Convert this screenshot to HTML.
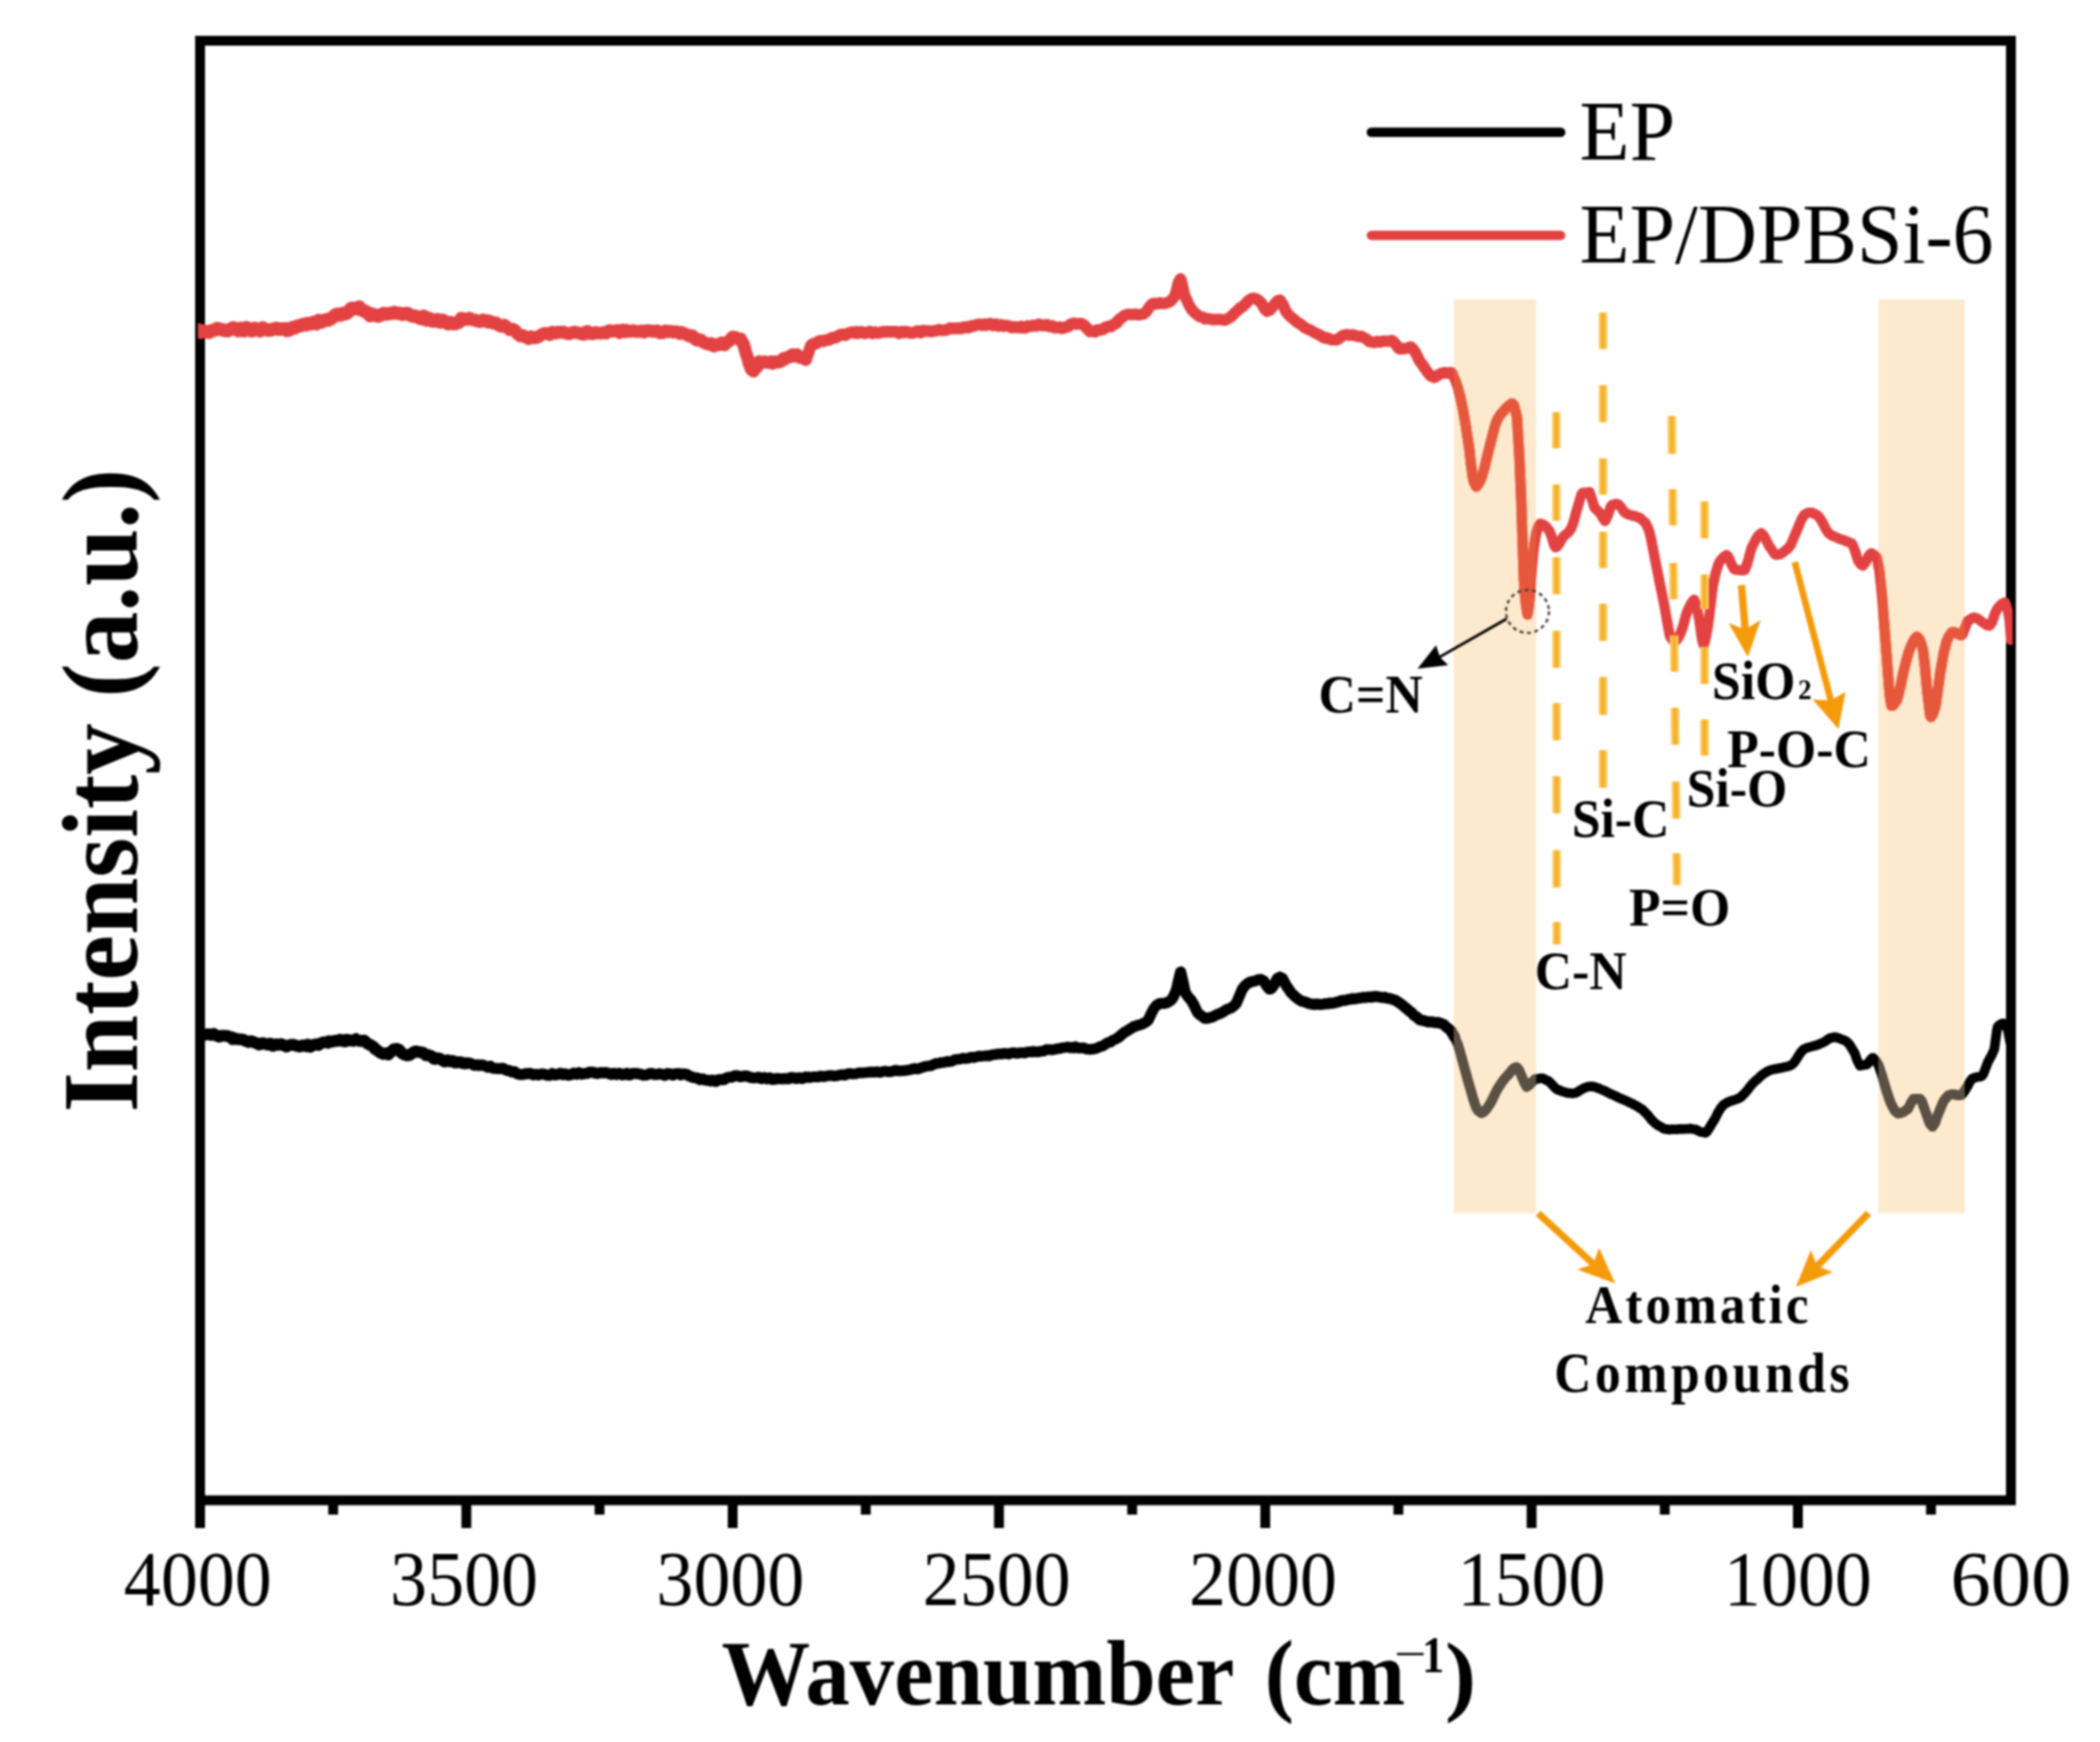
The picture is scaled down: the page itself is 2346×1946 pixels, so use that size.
<!DOCTYPE html>
<html lang="en"><head><meta charset="utf-8"><title>FTIR spectra</title>
<style>html,body{margin:0;padding:0;background:#fff}body{width:2346px;height:1946px;overflow:hidden}svg{display:block}</style></head>
<body>
<svg width="2346" height="1946" viewBox="0 0 2346 1946" font-family="'Liberation Serif', serif" fill="#000">
<defs>
<clipPath id="bands"><rect x="1624.0" y="334.6" width="92.2" height="1020.7"/><rect x="2098.4" y="334.6" width="96.6" height="1020.7"/></clipPath>
<clipPath id="plot"><rect x="221" y="40" width="2027.5" height="1640"/></clipPath>
<filter id="soft" color-interpolation-filters="sRGB" x="0" y="0" width="100%" height="100%" filterUnits="userSpaceOnUse" primitiveUnits="userSpaceOnUse"><feGaussianBlur stdDeviation="1.0"/></filter>
</defs>
<g filter="url(#soft)">
<rect width="2346" height="1946" fill="#fff"/>
<rect x="1624.0" y="334.6" width="92.2" height="1020.7" fill="#fde9ce"/>
<rect x="2098.4" y="334.6" width="96.6" height="1020.7" fill="#fde9ce"/>
<rect x="223.5" y="45.5" width="2023.0" height="1630.5" fill="none" stroke="#000" stroke-width="11"/>
<path d="M223.5,1676.0 V1707 M521.0,1676.0 V1707 M818.5,1676.0 V1707 M1116.0,1676.0 V1707 M1413.5,1676.0 V1707 M1711.0,1676.0 V1707 M2008.5,1676.0 V1707 M372.2,1676.0 V1692 M669.8,1676.0 V1692 M967.2,1676.0 V1692 M1264.8,1676.0 V1692 M1562.2,1676.0 V1692 M1859.8,1676.0 V1692 M2157.2,1676.0 V1692" stroke="#000" stroke-width="11" fill="none"/>
<g fill="none" stroke-linejoin="round" stroke-linecap="round" clip-path="url(#plot)">
<path d="M223.8,1153.5 L226.8,1155.6 L229.8,1155.8 L232.8,1155.3 L235.8,1156.2 L238.8,1155.0 L241.8,1156.9 L244.8,1158.1 L247.8,1157.0 L250.8,1157.0 L253.8,1157.4 L256.8,1158.3 L259.5,1159.0 L259.8,1160.8 L262.8,1160.3 L265.8,1161.0 L268.8,1161.0 L271.8,1161.5 L274.8,1162.9 L277.8,1164.1 L280.8,1163.0 L283.8,1164.3 L286.8,1165.5 L289.8,1166.9 L292.8,1165.3 L295.8,1166.0 L298.8,1166.9 L301.8,1165.8 L302.4,1167.2 L304.8,1168.4 L307.8,1166.5 L310.8,1167.2 L313.8,1166.3 L316.8,1167.6 L319.8,1169.1 L322.8,1167.9 L325.8,1167.0 L328.8,1167.4 L331.8,1168.4 L334.8,1169.1 L337.8,1167.9 L340.8,1168.1 L342.9,1169.0 L343.8,1166.9 L346.8,1169.3 L349.8,1167.5 L352.8,1166.6 L355.8,1167.3 L358.8,1165.2 L361.8,1164.3 L364.8,1164.1 L366.7,1165.0 L367.8,1163.1 L370.8,1163.7 L373.8,1162.6 L376.8,1163.0 L379.8,1161.4 L382.8,1163.0 L385.7,1163.4 L385.8,1161.6 L388.8,1161.7 L391.8,1162.4 L394.8,1162.8 L397.8,1160.8 L400.8,1162.6 L403.8,1163.0 L404.8,1163.0 L406.8,1162.3 L409.8,1165.2 L412.8,1166.9 L415.8,1168.5 L418.8,1170.9 L419.0,1172.0 L421.8,1173.5 L424.8,1176.0 L427.8,1177.3 L430.8,1176.6 L432.1,1177.3 L433.8,1178.0 L436.8,1175.1 L439.8,1172.1 L442.8,1173.0 L442.9,1171.5 L445.8,1172.7 L448.8,1176.5 L451.8,1178.1 L452.4,1178.1 L454.8,1179.0 L457.8,1178.5 L460.8,1176.3 L463.8,1174.6 L466.7,1175.1 L466.8,1174.9 L469.8,1175.4 L472.8,1175.9 L475.8,1178.9 L478.8,1178.7 L481.8,1179.7 L484.8,1182.8 L485.7,1183.1 L487.8,1182.1 L490.8,1182.5 L493.8,1184.3 L496.8,1185.8 L499.8,1184.3 L502.8,1185.6 L505.8,1185.2 L508.8,1187.0 L511.8,1186.6 L514.8,1186.7 L517.8,1187.9 L520.8,1187.8" stroke="#000" stroke-width="13.2"/>
<path d="M517.8,1187.9 L520.8,1187.8 L523.8,1187.5 L526.8,1188.4 L529.8,1190.0 L532.8,1190.1 L533.3,1189.5 L535.8,1190.2 L538.8,1189.6 L541.8,1190.7 L544.8,1192.2 L547.8,1191.1 L550.8,1193.4 L553.8,1193.6 L556.8,1193.8 L559.8,1193.6 L561.9,1193.4 L562.8,1194.0 L565.8,1195.7 L568.8,1195.9 L571.8,1197.6 L574.8,1197.2 L577.8,1199.4 L580.8,1200.2 L583.8,1200.4 L586.8,1199.5 L588.1,1199.6 L589.8,1199.2 L592.8,1199.2 L595.8,1200.7 L598.8,1200.2 L601.8,1200.8 L604.8,1199.7 L607.8,1199.9 L610.8,1201.1 L613.8,1201.3 L616.8,1199.3 L619.8,1200.8 L622.8,1200.3 L625.8,1199.1 L628.6,1200.5 L628.8,1199.7 L631.8,1199.8 L634.8,1201.1 L637.8,1200.5 L640.8,1198.8 L643.8,1200.0 L646.8,1198.3 L649.8,1200.0 L652.8,1199.2 L655.8,1199.1 L658.8,1197.6 L661.8,1197.7 L664.3,1198.7 L664.8,1198.3 L667.8,1199.3 L670.8,1198.2 L673.8,1198.6 L676.8,1198.1 L679.8,1199.1 L682.8,1200.3 L685.8,1199.0 L688.8,1200.3 L691.8,1199.0 L694.8,1200.7 L697.8,1200.0 L700.0,1199.2 L700.8,1200.6 L703.8,1200.9 L706.8,1199.3 L709.8,1199.2 L712.8,1199.5 L715.8,1200.1 L718.8,1201.1 L721.8,1200.9 L724.8,1199.7 L727.8,1199.1 L730.8,1200.3 L733.8,1200.3 L736.8,1199.5 L739.8,1200.3 L742.8,1201.2 L745.8,1199.3 L748.8,1199.7 L751.8,1200.9 L754.8,1199.4 L757.8,1199.4 L759.5,1199.5 L760.8,1200.8 L763.8,1199.7 L766.8,1200.1 L769.8,1202.0 L772.8,1203.1 L775.8,1203.9 L778.8,1204.1 L781.8,1206.1 L784.8,1205.2 L787.8,1206.5 L790.8,1206.8 L793.8,1207.5 L795.2,1206.7 L796.8,1206.6 L799.8,1208.1 L802.8,1206.1 L805.8,1205.9 L808.8,1206.1 L811.8,1204.0 L814.8,1203.4 L817.8,1203.3 L820.8,1201.8 L823.8,1201.6 L826.8,1202.9 L829.8,1202.4 L832.8,1201.9 L835.8,1202.6 L838.8,1203.7 L841.8,1204.1 L844.8,1203.8 L847.8,1203.4 L850.8,1205.0 L853.8,1203.8 L856.8,1205.2 L859.8,1204.1 L862.8,1205.9 L865.8,1205.6 L866.7,1205.0 L868.8,1204.8 L871.8,1205.1 L874.8,1205.2 L877.8,1204.9 L880.8,1205.1 L883.8,1203.6 L886.8,1204.2 L889.8,1204.8 L892.8,1203.9 L895.8,1204.9 L898.8,1203.7 L901.8,1203.2" stroke="#000" stroke-width="12.4"/>
<path d="M898.8,1203.7 L901.8,1203.2 L904.8,1203.8 L907.8,1202.9 L910.8,1202.9 L913.8,1202.8 L914.3,1203.1 L916.8,1202.0 L919.8,1202.8 L922.8,1202.1 L925.8,1201.6 L928.8,1201.4 L931.8,1202.1 L934.8,1201.8 L937.8,1201.0 L940.8,1200.5 L943.8,1201.1 L946.8,1199.5 L949.8,1199.3 L952.8,1199.7 L955.8,1199.6 L958.8,1198.6 L961.8,1198.6 L961.9,1198.4 L964.8,1198.4 L967.8,1198.1 L970.8,1197.8 L973.8,1197.6 L976.8,1197.8 L979.8,1197.2 L982.8,1198.0 L985.8,1197.2 L988.8,1196.6 L991.8,1197.2 L994.8,1197.2 L997.8,1196.4 L1000.8,1195.6 L1003.8,1196.3 L1006.8,1196.2 L1009.8,1196.1 L1012.8,1195.6 L1015.8,1195.1 L1018.8,1194.4 L1021.4,1193.9 L1021.8,1193.6 L1024.8,1194.2 L1027.8,1193.3 L1030.8,1192.3 L1033.8,1191.3 L1036.8,1190.8 L1039.8,1190.6 L1042.8,1189.1 L1045.8,1188.0 L1048.8,1187.7 L1051.8,1186.9 L1054.8,1186.7 L1057.1,1186.1 L1057.8,1185.8 L1060.8,1186.0 L1063.8,1185.3 L1066.8,1183.7 L1069.8,1183.4 L1072.8,1183.1 L1075.8,1182.1 L1078.8,1182.6 L1081.8,1182.1 L1084.8,1181.0 L1087.8,1181.4 L1090.8,1180.5 L1093.8,1179.7 L1096.8,1179.9 L1099.8,1179.6 L1102.8,1179.3 L1104.8,1179.5 L1105.8,1179.3 L1108.8,1178.3 L1111.8,1178.1 L1114.8,1177.2 L1117.8,1177.6 L1120.8,1177.0 L1123.8,1176.7 L1126.8,1177.5 L1129.8,1176.2 L1132.8,1176.1 L1135.8,1176.7 L1138.8,1176.3 L1141.8,1175.9 L1144.8,1176.3 L1147.8,1175.2 L1150.8,1174.9 L1152.4,1175.2 L1153.8,1174.5 L1156.8,1175.0 L1159.8,1175.0 L1162.8,1174.4 L1165.8,1174.1 L1168.8,1172.5 L1171.8,1172.6 L1174.8,1172.8 L1177.8,1172.3 L1180.8,1171.6 L1183.8,1171.3 L1186.8,1170.4 L1189.8,1170.1 L1192.8,1169.6 L1195.8,1170.6 L1198.8,1169.7 L1200.0,1170.7 L1201.8,1169.4 L1204.8,1170.8 L1207.8,1170.8 L1210.8,1170.6 L1213.8,1171.9 L1216.8,1172.2 L1217.9,1172.2 L1219.8,1172.1 L1222.8,1171.6 L1225.8,1170.8 L1228.8,1169.2 L1231.8,1168.6 L1234.8,1166.5 L1237.8,1164.7 L1240.8,1164.1 L1242.9,1162.1 L1243.8,1161.9 L1246.8,1160.5 L1249.8,1158.7 L1252.8,1156.0" stroke="#000" stroke-width="12.0"/>
<path d="M1249.8,1158.7 L1252.8,1156.0 L1255.8,1153.5 L1258.8,1151.9 L1261.8,1149.8 L1264.8,1148.1 L1266.7,1146.7 L1267.8,1146.7 L1270.8,1145.5 L1273.8,1144.7 L1276.8,1143.5 L1279.8,1141.9 L1281.0,1141.1 L1282.8,1139.3 L1285.8,1132.8 L1288.8,1127.0 L1291.7,1123.4 L1291.8,1123.3 L1294.8,1121.4 L1297.8,1120.9 L1300.8,1120.9 L1303.8,1120.0 L1306.8,1118.1 L1307.1,1118.3 L1309.8,1115.5 L1312.8,1109.3 L1314.3,1105.2 L1315.8,1098.4 L1318.8,1086.0 L1319.0,1085.7 L1321.8,1097.7 L1323.8,1107.2 L1324.8,1109.9 L1327.8,1114.2 L1330.8,1117.5 L1332.1,1119.9 L1333.8,1122.6 L1336.8,1129.2 L1338.1,1131.5 L1339.8,1133.1 L1342.8,1135.2 L1345.8,1137.5 L1347.6,1137.5 L1348.8,1137.5 L1351.8,1136.7 L1354.8,1136.0 L1357.8,1134.2 L1360.8,1133.0 L1363.8,1131.8 L1366.7,1130.3 L1366.8,1130.2 L1369.8,1128.2 L1372.8,1126.9 L1375.8,1125.7 L1378.8,1123.3 L1381.0,1121.0 L1381.8,1119.2 L1384.8,1112.3 L1387.8,1105.0 L1389.3,1103.2 L1390.8,1101.1 L1393.8,1098.6 L1396.8,1097.0 L1397.6,1097.1 L1399.8,1096.2 L1402.8,1095.7 L1405.8,1094.4 L1408.8,1094.1 L1409.5,1094.8 L1411.8,1095.7 L1414.8,1101.0 L1417.8,1104.8 L1419.0,1104.9 L1420.8,1103.9 L1423.8,1099.5 L1426.8,1093.2 L1429.8,1091.5 L1432.8,1093.2 L1435.8,1098.8 L1438.1,1103.0 L1438.8,1103.4 L1441.8,1108.2 L1444.8,1111.4 L1447.8,1114.1 L1450.0,1115.7 L1450.8,1116.4 L1453.8,1118.2 L1456.8,1118.9 L1459.8,1120.2 L1462.8,1121.2 L1465.8,1121.8 L1468.8,1122.1 L1469.0,1121.7 L1471.8,1121.7 L1474.8,1122.1 L1477.8,1121.9 L1480.8,1121.1 L1483.8,1121.4 L1485.7,1120.4 L1486.8,1120.9 L1489.8,1120.5 L1492.8,1119.6 L1495.8,1119.0 L1498.8,1117.7 L1501.8,1117.7 L1504.8,1116.9 L1507.8,1116.3 L1509.5,1116.1 L1510.8,1115.5 L1513.8,1115.8 L1516.8,1115.2 L1519.8,1114.9 L1522.8,1114.1 L1525.8,1114.3 L1528.8,1113.7 L1531.8,1114.0 L1534.8,1113.2 L1537.8,1113.2 L1538.1,1113.3 L1540.8,1113.6 L1543.8,1114.4 L1546.8,1114.0 L1549.8,1115.2 L1552.8,1115.4 L1555.8,1116.6 L1557.1,1116.9 L1558.8,1117.4 L1561.8,1119.4 L1564.8,1121.4 L1567.8,1123.7 L1570.8,1126.4 L1571.4,1126.4 L1573.8,1129.0 L1576.8,1130.9 L1579.8,1134.4 L1582.8,1136.1 L1585.8,1139.1 L1588.8,1139.7 L1590.0,1140.0 L1591.8,1140.5 L1594.8,1141.6 L1597.8,1141.4 L1600.8,1141.7 L1603.8,1142.4 L1606.8,1142.2 L1609.5,1143.3 L1609.8,1143.3 L1612.8,1144.4 L1615.8,1147.3 L1618.8,1149.6 L1621.2,1152.2 L1621.8,1153.3 L1624.8,1158.5" stroke="#000" stroke-width="12.3"/>
<path d="M1621.8,1153.3 L1624.8,1158.5 L1627.8,1164.9 L1628.7,1167.1 L1630.8,1173.9 L1633.8,1184.8 L1636.1,1193.4 L1636.8,1195.8 L1639.8,1206.7 L1642.8,1216.9 L1643.6,1219.8 L1645.8,1227.5 L1648.8,1236.5 L1649.6,1238.2 L1651.8,1241.2 L1654.8,1243.3 L1655.5,1243.3 L1657.8,1242.0 L1660.8,1238.8 L1663.7,1234.4 L1663.8,1234.3 L1666.8,1229.0 L1669.8,1222.7 L1672.8,1216.7 L1673.4,1215.7 L1675.8,1212.1 L1678.8,1207.7 L1681.8,1203.9 L1684.6,1200.9 L1684.8,1200.9 L1687.8,1197.0 L1690.8,1193.7 L1693.8,1192.2 L1694.3,1192.1 L1696.8,1194.8 L1699.8,1202.0 L1701.0,1204.7 L1702.8,1209.1 L1705.5,1214.1 L1705.8,1214.0 L1708.8,1211.8 L1711.8,1208.4 L1714.5,1206.2 L1714.8,1205.7 L1717.8,1205.3 L1720.8,1204.6 L1721.9,1204.6 L1723.8,1204.6 L1726.8,1206.4 L1729.8,1207.6 L1730.0,1207.8 L1732.8,1210.4 L1735.8,1213.8 L1738.8,1216.6 L1739.6,1217.3 L1741.8,1217.6 L1744.8,1219.1 L1747.8,1219.9 L1750.8,1220.9 L1753.8,1221.2 L1756.8,1221.5 L1759.8,1221.0 L1762.8,1219.6 L1765.8,1217.5 L1768.8,1216.0 L1771.8,1214.6 L1774.8,1213.8 L1775.8,1213.9 L1777.8,1213.6 L1780.8,1213.9 L1783.8,1215.1 L1786.8,1216.0 L1789.8,1217.5 L1792.8,1218.6 L1795.8,1220.2 L1798.8,1221.9 L1801.8,1223.0 L1803.3,1223.8 L1804.8,1224.3 L1807.8,1226.0 L1810.8,1227.2 L1813.8,1228.5 L1816.8,1229.7 L1819.8,1231.4 L1822.8,1232.5 L1825.8,1234.3 L1828.8,1235.6 L1831.8,1237.8 L1834.3,1239.2 L1834.8,1239.5 L1837.8,1242.7 L1840.8,1245.6 L1843.8,1249.5 L1846.8,1252.7 L1849.8,1255.4 L1851.6,1256.7 L1852.8,1257.6 L1855.8,1258.9 L1858.8,1260.9 L1861.8,1261.5 L1863.6,1261.6 L1864.8,1262.0 L1867.8,1261.5 L1870.8,1261.6 L1873.8,1261.7 L1876.8,1261.2 L1879.8,1261.3 L1882.8,1261.1 L1885.8,1261.1 L1888.8,1260.7 L1889.5,1261.0 L1891.8,1261.4 L1894.8,1261.8 L1897.8,1263.6 L1900.8,1264.7 L1903.8,1265.0 L1905.0,1265.5 L1906.8,1264.5 L1909.8,1259.7 L1912.8,1254.6 L1913.6,1253.5 L1915.8,1249.8 L1918.8,1243.8 L1921.8,1238.7 L1924.8,1234.9 L1925.6,1234.1 L1927.8,1232.7 L1930.8,1231.0 L1933.8,1229.9 L1936.8,1229.0 L1939.8,1228.0 L1942.8,1226.7 L1944.6,1225.9 L1945.8,1224.5 L1948.8,1221.6 L1951.8,1218.2 L1954.8,1214.3 L1957.8,1210.5 L1958.4,1210.2 L1960.8,1207.6 L1963.8,1205.3 L1966.8,1202.2 L1969.8,1199.9 L1972.8,1197.8 L1975.6,1196.4 L1975.8,1196.1 L1978.8,1195.2 L1981.8,1194.3 L1984.8,1193.9 L1987.8,1193.2 L1990.8,1192.8 L1993.8,1192.1 L1996.8,1191.4 L1999.8,1190.5 L2001.4,1189.5 L2002.8,1188.6 L2005.8,1185.0 L2008.8,1180.2 L2011.8,1175.5 L2014.8,1172.3 L2015.2,1172.2 L2017.8,1170.8 L2020.8,1169.9 L2023.8,1169.1 L2026.8,1168.3 L2029.8,1167.5 L2032.8,1166.2 L2034.9,1165.3 L2035.8,1165.0 L2038.8,1163.5 L2041.8,1161.2 L2044.8,1159.5 L2047.8,1159.1 L2048.5,1158.7 L2050.8,1158.7 L2053.8,1159.6 L2056.8,1160.7 L2059.8,1161.9 L2062.1,1162.9 L2062.8,1163.5 L2065.8,1166.4 L2068.8,1171.2 L2070.8,1174.6 L2071.8,1176.0 L2074.8,1184.7 L2077.8,1190.5 L2078.2,1190.5 L2080.8,1190.0 L2083.8,1189.4 L2085.6,1189.1 L2086.8,1187.9 L2089.8,1183.6 L2091.8,1181.7 L2092.8,1181.9 L2095.8,1185.6 L2098.0,1188.9 L2098.8,1190.7 L2101.8,1199.4 L2104.8,1209.3 L2105.4,1211.6 L2107.8,1219.3 L2110.8,1228.5 L2112.9,1233.7 L2113.8,1235.3 L2116.8,1240.9 L2119.8,1243.6 L2120.3,1243.9 L2122.8,1243.5 L2125.8,1242.4 L2128.8,1240.4 L2131.4,1238.9 L2131.8,1238.2 L2134.8,1232.0 L2137.6,1227.6 L2137.8,1227.5 L2140.8,1227.3 L2143.8,1227.6 L2145.0,1227.6 L2146.8,1229.8 L2149.8,1238.3 L2151.2,1242.2 L2152.8,1246.6 L2155.8,1254.9 L2158.7,1258.3 L2158.8,1258.7 L2161.8,1254.3 L2164.8,1245.4 L2166.1,1242.5 L2167.8,1238.3 L2170.8,1231.0 L2172.3,1228.6 L2173.8,1226.9 L2176.8,1223.6 L2179.7,1222.7 L2179.8,1222.6 L2182.8,1222.6 L2185.8,1223.2 L2188.8,1223.4 L2190.9,1223.2 L2191.8,1222.8 L2194.8,1218.9 L2197.0,1215.0 L2197.8,1214.1 L2200.8,1208.1 L2203.2,1205.0 L2203.8,1204.6 L2206.8,1203.6 L2209.8,1203.0 L2212.8,1202.6 L2214.4,1201.6 L2215.8,1199.6 L2218.8,1191.7 L2220.6,1186.8 L2221.8,1184.5 L2224.8,1179.2 L2227.8,1172.3 L2228.0,1171.9 L2230.8,1151.0 L2231.7,1146.9 L2233.8,1144.9 L2236.8,1143.3 L2237.9,1143.2 L2239.8,1144.5 L2242.8,1149.8 L2243.0,1150.3 L2245.8,1164.7 L2246.0,1165.7" stroke="#000" stroke-width="10.8"/>
<path d="M221.4,368.5 L224.4,371.1 L227.4,369.5 L230.4,370.5 L233.4,371.3 L236.4,369.3 L239.4,369.0 L242.4,367.1 L245.4,367.7 L248.4,368.5 L251.4,369.1 L254.4,369.5 L257.4,367.7 L260.4,366.3 L263.4,367.1 L266.4,369.6 L269.4,366.8 L271.4,367.7 L272.4,369.6 L275.4,366.0 L278.4,368.3 L281.4,369.7 L284.4,366.8 L287.4,368.1 L290.4,369.5 L293.4,366.4 L296.4,368.0 L299.4,368.9 L302.4,368.6 L305.4,367.8 L308.4,366.7 L311.4,367.9 L314.4,367.4 L317.4,367.8 L319.0,367.4 L320.4,369.2 L323.4,368.6 L326.4,366.1 L329.4,366.3 L332.4,364.2 L335.4,363.9 L338.4,362.5 L341.4,362.9 L342.9,361.4 L344.4,361.4 L347.4,361.8 L350.4,360.1 L353.4,361.5 L356.4,358.0 L359.4,359.7 L362.4,357.8 L365.4,357.1 L366.7,357.5 L368.4,356.6 L371.4,355.0 L374.4,352.0 L377.4,350.9 L380.4,352.0 L383.3,350.1 L383.4,350.7 L386.4,350.6 L389.4,348.3 L392.4,344.5 L395.4,344.5 L398.4,344.8 L401.4,343.0 L402.4,345.9 L404.4,346.2 L407.4,347.8 L410.4,348.8 L413.4,352.6 L416.4,350.9 L416.7,351.6 L419.4,352.2 L422.4,353.2 L425.4,351.9 L428.4,350.3 L431.4,350.8 L434.4,350.4 L437.4,350.0 L440.4,349.1 L443.4,349.9 L446.4,349.9 L449.4,351.1 L450.0,351.2 L452.4,350.2 L455.4,350.3 L458.4,352.1 L461.4,353.2 L464.4,353.2 L467.4,354.6 L470.4,356.0 L473.4,353.3 L476.4,357.5 L479.4,355.8 L481.0,356.9 L482.4,358.5 L485.4,358.7 L488.4,357.1 L491.4,359.7 L494.4,357.9 L497.4,359.6 L500.4,361.7 L503.4,360.4 L504.8,361.1 L506.4,361.5 L509.4,361.2 L512.4,360.0 L515.4,355.9 L518.4,356.7 L521.4,356.6" stroke="#e34242" stroke-width="15.0"/>
<path d="M518.4,356.7 L521.4,356.6 L524.4,355.4 L527.4,357.1 L530.4,357.6 L533.4,358.6 L536.4,359.4 L539.4,357.4 L542.4,358.2 L545.2,360.0 L545.4,358.4 L548.4,359.3 L551.4,361.1 L554.4,360.7 L557.4,363.4 L560.4,364.6 L563.4,363.2 L566.4,365.8 L569.0,367.6 L569.4,368.3 L572.4,367.7 L575.4,369.2 L578.4,373.3 L581.4,375.3 L584.4,374.9 L587.4,376.8 L590.4,378.1 L590.5,378.4 L593.4,376.3 L596.4,377.3 L599.4,377.1 L602.4,375.6 L605.4,373.6 L608.4,372.5 L611.4,372.6 L614.4,373.7 L616.7,371.2 L617.4,371.1 L620.4,372.1 L623.4,371.1 L626.4,371.3 L629.4,370.8 L632.4,372.3 L635.4,372.8 L638.4,371.9 L641.4,371.0 L644.4,371.6 L647.4,372.3 L650.4,373.3 L652.4,373.4 L653.4,371.1 L656.4,370.3 L659.4,372.7 L662.4,372.8 L665.4,371.3 L668.4,372.1 L671.4,372.2 L674.4,371.3 L677.4,372.0 L680.4,369.3 L683.4,369.9 L686.4,369.8 L689.4,369.2 L692.4,371.5 L695.4,368.8 L698.4,370.7 L700.0,368.9 L701.4,369.8 L704.4,370.0 L707.4,369.3 L710.4,370.3 L713.4,370.4 L716.4,369.7 L719.4,371.0 L722.4,369.3 L725.4,369.5 L728.4,370.0 L731.4,370.1 L734.4,369.7 L737.4,371.9 L740.4,371.7 L743.4,369.6 L746.4,370.5 L749.4,370.2 L752.4,371.0 L755.4,370.6 L758.4,371.4 L759.5,372.7 L761.4,371.3 L764.4,372.8 L767.4,373.8 L770.4,375.6 L773.4,375.0 L776.4,378.5 L778.6,379.9 L779.4,379.2 L782.4,379.5 L785.4,382.1 L788.4,383.5 L791.4,384.5 L794.4,383.8 L797.4,386.6 L797.6,386.6 L800.4,384.9 L803.4,385.1 L806.4,383.0 L809.4,385.3 L809.5,384.8 L812.4,382.5 L815.4,380.1 L818.4,376.5 L819.0,376.8 L821.4,376.8 L824.4,378.7 L827.4,378.6 L828.6,381.7 L830.4,383.7 L833.4,394.6 L835.7,401.2 L836.4,404.7 L839.4,412.7 L841.7,414.7 L842.4,413.3 L845.4,410.1 L848.4,403.8 L848.8,405.8 L851.4,405.0 L854.4,404.2 L857.4,404.8 L860.4,405.2 L861.9,404.1 L863.4,405.8 L866.4,404.1 L869.4,404.7 L872.4,403.5 L875.4,400.3 L876.2,401.6 L878.4,399.5 L881.4,398.9 L884.4,396.7 L885.7,396.3 L887.4,397.8 L890.4,396.3 L893.4,399.2 L896.4,399.9 L899.4,399.8 L900.0,401.7" stroke="#e34242" stroke-width="14.3"/>
<path d="M899.4,399.8 L900.0,401.7 L902.4,396.3 L905.4,387.2 L906.0,385.9 L908.4,384.0 L911.4,384.0 L914.4,381.4 L917.4,380.5 L920.4,381.2 L923.4,379.7 L923.8,379.5 L926.4,379.6 L929.4,377.4 L932.4,377.5 L935.4,376.0 L938.0,374.7 L938.4,374.0 L941.4,373.6 L944.4,374.3 L947.4,372.4 L950.4,371.4 L953.4,371.2 L956.4,372.2 L957.0,370.7 L959.4,372.0 L962.4,370.7 L965.4,372.3 L968.4,371.5 L971.4,370.5 L974.4,372.3 L977.4,371.1 L980.4,371.9 L983.4,371.4 L986.4,370.6 L989.4,370.6 L992.4,370.7 L995.4,370.7 L998.4,370.5 L1001.4,370.5 L1004.4,372.3 L1007.4,370.6 L1009.5,371.4 L1010.4,370.6 L1013.4,370.8 L1016.4,371.8 L1019.4,372.0 L1022.4,370.9 L1025.4,369.8 L1028.4,371.6 L1031.4,369.4 L1034.4,369.8 L1037.4,369.9 L1040.4,370.3 L1043.4,369.8 L1046.4,369.1 L1049.4,368.4 L1052.4,369.0 L1055.4,368.8 L1057.0,368.6 L1058.4,368.2 L1061.4,366.7 L1064.4,366.8 L1067.4,366.9 L1070.4,366.7 L1073.4,367.0 L1076.4,365.5 L1079.4,366.0 L1081.0,365.2 L1082.4,365.9 L1085.4,364.1 L1088.4,364.1 L1091.4,362.7 L1094.4,362.3 L1097.4,363.4 L1100.0,362.0 L1100.4,363.2 L1103.4,362.5 L1106.4,361.7 L1109.4,363.4 L1112.4,362.2 L1115.4,364.1 L1118.4,362.8 L1121.4,364.4 L1124.4,363.8 L1127.4,364.4 L1130.4,365.9 L1133.4,365.2 L1136.4,365.7 L1139.4,366.0 L1140.5,364.7 L1142.4,366.1 L1145.4,366.1 L1148.4,364.2 L1151.4,364.5 L1154.4,363.6 L1157.4,364.1 L1160.4,362.3 L1163.4,363.1 L1164.3,363.7 L1166.4,363.7 L1169.4,362.8 L1172.4,364.8 L1175.4,364.2 L1178.4,366.0 L1181.4,365.9 L1184.4,365.5 L1185.7,366.7 L1187.4,366.6 L1190.4,365.5 L1193.4,364.7 L1196.4,362.1 L1199.4,361.4 L1200.0,361.2 L1202.4,362.0 L1205.4,361.7 L1208.0,361.6 L1208.4,361.9 L1211.4,363.7 L1214.4,366.8 L1217.4,370.1 L1217.9,369.8 L1220.4,370.0 L1223.4,370.6 L1226.4,368.5 L1229.4,368.5 L1232.4,367.6 L1235.4,365.7 L1238.4,364.9 L1241.4,364.7 L1242.9,362.8 L1244.4,362.7 L1247.4,360.6 L1250.4,356.9" stroke="#e34242" stroke-width="13.2"/>
<path d="M1247.4,360.6 L1250.4,356.9 L1253.4,354.8 L1256.4,352.2 L1259.4,351.2 L1259.5,351.5 L1262.4,351.1 L1265.4,351.5 L1268.4,350.9 L1271.4,351.7 L1274.4,351.3 L1276.2,350.9 L1277.4,350.8 L1280.4,348.4 L1283.4,343.9 L1286.4,340.0 L1288.0,339.1 L1289.4,339.0 L1292.4,339.5 L1295.4,338.3 L1298.4,339.1 L1301.4,338.9 L1304.4,337.8 L1304.8,337.9 L1307.4,336.8 L1310.4,333.5 L1311.9,331.5 L1313.4,327.8 L1316.4,315.7 L1318.6,311.5 L1319.4,312.8 L1322.4,325.8 L1323.8,331.2 L1325.4,334.3 L1328.4,341.0 L1331.4,346.0 L1333.3,348.1 L1334.4,349.1 L1337.4,351.6 L1340.4,353.8 L1343.4,354.3 L1346.4,356.3 L1347.6,355.7 L1349.4,356.0 L1352.4,356.4 L1355.4,357.2 L1358.4,356.9 L1361.4,356.8 L1364.4,356.9 L1367.4,357.6 L1369.0,357.5 L1370.4,356.5 L1373.4,355.2 L1376.4,352.8 L1379.4,349.6 L1382.4,347.0 L1385.4,343.9 L1385.7,344.1 L1388.4,342.3 L1391.4,339.5 L1394.4,336.0 L1397.4,334.0 L1400.4,333.2 L1401.2,333.5 L1403.4,333.8 L1406.4,335.9 L1409.4,339.0 L1409.5,338.9 L1412.4,344.4 L1415.4,347.8 L1415.5,347.5 L1418.4,346.5 L1421.4,343.0 L1424.4,339.2 L1427.4,336.0 L1429.8,335.2 L1430.4,336.0 L1433.4,340.6 L1436.4,347.7 L1438.0,349.5 L1439.4,351.6 L1442.4,354.4 L1445.4,356.7 L1448.4,359.4 L1451.4,361.2 L1454.4,363.3 L1457.4,365.8 L1459.5,366.9 L1460.4,367.5 L1463.4,368.5 L1466.4,370.4 L1469.4,371.9 L1472.4,373.5 L1475.4,374.9 L1478.4,377.1 L1481.0,377.9 L1481.4,377.2 L1484.4,378.1 L1487.4,379.7 L1490.4,379.7 L1492.9,379.6 L1493.4,379.7 L1496.4,377.7 L1499.4,375.3 L1502.4,374.1 L1505.4,373.9 L1508.4,374.5 L1511.4,374.0 L1514.4,375.0 L1517.4,376.0 L1520.4,375.6 L1521.4,376.2 L1523.4,377.1 L1526.4,378.6 L1529.4,381.4 L1532.4,382.0 L1533.3,382.1 L1535.4,382.6 L1538.4,381.4 L1541.4,382.2 L1544.4,381.1 L1547.4,381.2 L1550.4,381.1 L1553.4,381.0 L1554.8,380.4 L1556.4,381.4 L1559.4,384.8 L1562.4,389.0 L1564.3,389.8 L1565.4,389.4 L1568.4,389.5 L1571.4,389.0 L1574.4,388.0 L1576.2,387.6 L1577.4,388.7 L1580.4,392.4 L1583.4,398.0 L1585.7,403.0 L1586.4,403.9 L1589.4,407.8 L1592.4,412.4 L1595.4,416.6 L1598.4,420.1 L1601.4,421.2 L1602.4,421.5 L1604.4,420.5 L1607.4,418.4 L1610.3,417.3 L1610.4,417.0 L1613.4,416.4 L1616.4,416.5 L1619.4,416.8 L1620.7,416.2 L1622.4,418.0" stroke="#e34242" stroke-width="12.8"/>
<path d="M1620.7,416.2 L1622.4,418.0 L1625.4,424.3 L1627.6,430.3 L1628.4,432.8 L1631.4,443.5 L1634.4,457.6 L1637.4,474.9 L1640.4,494.8 L1641.3,500.5 L1643.4,519.6 L1645.6,535.0 L1646.4,538.0 L1649.0,543.6 L1649.4,543.7 L1652.4,539.6 L1655.0,533.9 L1655.4,532.6 L1658.4,522.3 L1661.4,509.9 L1663.7,500.5 L1664.4,497.8 L1667.4,485.9 L1670.4,474.8 L1672.3,469.6 L1673.4,467.6 L1676.4,462.8 L1679.4,459.6 L1681.0,457.7 L1682.4,456.1 L1685.4,453.2 L1688.4,450.9 L1689.6,450.8 L1691.4,452.8 L1694.4,465.0 L1694.7,466.2 L1697.3,509.8 L1697.4,511.4 L1699.5,559.8 L1700.4,588.5 L1702.3,646.2 L1703.4,662.8 L1704.6,674.7 L1706.4,686.5 L1708.2,675.3 L1709.4,660.7 L1710.5,646.0 L1712.4,623.3 L1713.6,611.5 L1715.4,600.0 L1716.6,594.5 L1718.4,588.8 L1720.6,585.0 L1721.4,585.1 L1724.4,586.1 L1727.4,588.6 L1730.4,592.3 L1730.9,593.0 L1733.4,599.4 L1736.4,609.6 L1737.8,611.4 L1739.4,610.8 L1742.4,606.6 L1745.4,600.8 L1746.4,599.6 L1748.4,597.6 L1751.4,595.4 L1754.4,591.6 L1755.0,590.7 L1757.4,584.9 L1760.4,573.7 L1761.9,568.5 L1763.4,563.5 L1766.4,553.0 L1767.9,550.5 L1769.4,550.5 L1772.4,550.3 L1775.4,550.2 L1775.7,549.6 L1778.4,557.7 L1780.9,566.0 L1781.4,567.2 L1784.4,570.1 L1787.4,573.1 L1787.7,573.3 L1790.4,578.4 L1792.9,582.1 L1793.4,581.6 L1796.4,575.3 L1799.4,565.8 L1801.0,563.9 L1802.4,563.7 L1805.4,562.8 L1806.7,563.1 L1808.4,563.8 L1811.4,567.4 L1814.4,571.8 L1817.0,573.9 L1817.4,573.9 L1820.4,575.1 L1823.4,576.0 L1826.4,576.4 L1829.4,577.9 L1830.0,577.7 L1832.4,578.9 L1835.4,581.7 L1838.0,584.2 L1838.4,584.3 L1841.4,590.5 L1842.9,595.2 L1844.4,601.6 L1846.3,611.5 L1847.4,617.1 L1850.4,632.4 L1853.2,645.8 L1853.4,647.4 L1856.4,662.1 L1859.4,676.8 L1860.1,680.8 L1862.4,694.0 L1865.4,709.9 L1866.1,711.7 L1868.4,714.7 L1871.3,717.0 L1871.4,716.8 L1874.4,713.4 L1877.3,707.9 L1877.4,707.6 L1880.4,699.0 L1883.4,687.5 L1885.9,680.6 L1886.4,679.8 L1889.4,673.8 L1892.4,670.0 L1892.8,670.1 L1895.4,677.4 L1898.0,690.8 L1898.4,693.0 L1901.4,714.4 L1903.1,720.4 L1904.4,717.9 L1907.4,703.0 L1908.3,697.7 L1910.4,680.6 L1913.4,655.3 L1913.5,654.6 L1916.4,641.2 L1919.4,631.1 L1920.4,628.7 L1922.4,625.6 L1925.4,622.3 L1928.4,620.4 L1929.0,620.0 L1931.4,623.2 L1934.4,630.6 L1937.4,635.9 L1937.6,636.0 L1940.4,636.7 L1943.4,636.9 L1946.4,637.3 L1948.6,636.9 L1949.4,636.5 L1952.4,628.0 L1955.4,616.7 L1957.2,611.1 L1958.4,608.9 L1961.4,602.8 L1964.4,598.1 L1967.4,595.7 L1967.6,595.5 L1970.4,598.3 L1973.4,604.1 L1976.2,609.5 L1976.4,610.0 L1979.4,614.2 L1982.4,618.9 L1984.8,619.9 L1985.4,619.7 L1988.4,619.4 L1991.4,617.3 L1994.4,615.1 L1997.4,612.8 L1998.6,611.1 L2000.4,609.0 L2003.4,602.1 L2006.4,594.8 L2008.9,589.0 L2009.4,587.6 L2012.4,580.5 L2015.4,575.4 L2015.8,575.2 L2018.4,573.4 L2021.4,572.6 L2022.7,572.8 L2024.4,572.6 L2027.4,574.3 L2030.4,575.9 L2031.3,576.8 L2033.4,579.2 L2036.4,584.5 L2039.4,590.5 L2042.4,595.2 L2043.3,595.9 L2045.4,597.5 L2048.4,599.2 L2051.4,600.2 L2054.4,601.8 L2057.1,602.7 L2057.4,602.7 L2060.4,603.7 L2063.4,605.0 L2066.4,606.1 L2069.2,607.5 L2069.4,608.0 L2072.4,615.5 L2075.4,625.4 L2076.1,626.8 L2078.4,630.1 L2081.2,631.8 L2081.4,631.7 L2084.4,627.7 L2087.4,621.0 L2089.8,618.4 L2090.4,618.1 L2093.4,619.7 L2096.4,623.0 L2096.7,623.6 L2099.4,637.5 L2101.0,651.2 L2102.4,665.4 L2104.5,692.0 L2105.4,703.2 L2107.9,735.5 L2108.4,742.4 L2110.5,769.7 L2111.4,778.7 L2113.1,788.4 L2114.4,788.3 L2117.4,784.7 L2119.1,781.8 L2120.4,778.1 L2123.4,764.9 L2126.0,752.6 L2126.4,751.0 L2129.4,738.7 L2132.4,728.0 L2132.9,726.9 L2135.4,720.5 L2138.4,714.3 L2141.4,711.1 L2141.5,711.3 L2144.4,714.2 L2147.4,722.7 L2148.4,727.0 L2150.4,743.9 L2152.7,769.4 L2153.4,776.1 L2156.4,800.0 L2157.0,800.9 L2159.4,797.8 L2162.2,789.0 L2162.4,787.9 L2165.4,767.1 L2167.4,752.2 L2168.4,746.4 L2171.4,729.4 L2174.2,718.4 L2174.4,717.2 L2177.4,710.5 L2180.4,706.4 L2181.1,706.1 L2183.4,706.2 L2186.4,707.5 L2189.4,709.3 L2191.5,709.6 L2192.4,708.8 L2195.4,701.1 L2198.4,693.7 L2201.4,691.6 L2204.4,690.0 L2205.2,690.0 L2207.4,690.3 L2210.4,691.7 L2213.4,694.3 L2216.4,696.2 L2219.4,698.4 L2222.4,698.9 L2222.5,699.0 L2225.4,695.1 L2228.4,686.1 L2231.1,680.5 L2231.4,679.9 L2234.4,676.3 L2237.4,673.8 L2239.7,673.0 L2240.4,673.8 L2243.4,683.8 L2244.9,692.0 L2246.4,711.4 L2246.6,714.9" stroke="#e34242" stroke-width="11.4"/>
<g clip-path="url(#bands)"><path d="M223.8,1153.5 L226.8,1155.6 L229.8,1155.8 L232.8,1155.3 L235.8,1156.2 L238.8,1155.0 L241.8,1156.9 L244.8,1158.1 L247.8,1157.0 L250.8,1157.0 L253.8,1157.4 L256.8,1158.3 L259.5,1159.0 L259.8,1160.8 L262.8,1160.3 L265.8,1161.0 L268.8,1161.0 L271.8,1161.5 L274.8,1162.9 L277.8,1164.1 L280.8,1163.0 L283.8,1164.3 L286.8,1165.5 L289.8,1166.9 L292.8,1165.3 L295.8,1166.0 L298.8,1166.9 L301.8,1165.8 L302.4,1167.2 L304.8,1168.4 L307.8,1166.5 L310.8,1167.2 L313.8,1166.3 L316.8,1167.6 L319.8,1169.1 L322.8,1167.9 L325.8,1167.0 L328.8,1167.4 L331.8,1168.4 L334.8,1169.1 L337.8,1167.9 L340.8,1168.1 L342.9,1169.0 L343.8,1166.9 L346.8,1169.3 L349.8,1167.5 L352.8,1166.6 L355.8,1167.3 L358.8,1165.2 L361.8,1164.3 L364.8,1164.1 L366.7,1165.0 L367.8,1163.1 L370.8,1163.7 L373.8,1162.6 L376.8,1163.0 L379.8,1161.4 L382.8,1163.0 L385.7,1163.4 L385.8,1161.6 L388.8,1161.7 L391.8,1162.4 L394.8,1162.8 L397.8,1160.8 L400.8,1162.6 L403.8,1163.0 L404.8,1163.0 L406.8,1162.3 L409.8,1165.2 L412.8,1166.9 L415.8,1168.5 L418.8,1170.9 L419.0,1172.0 L421.8,1173.5 L424.8,1176.0 L427.8,1177.3 L430.8,1176.6 L432.1,1177.3 L433.8,1178.0 L436.8,1175.1 L439.8,1172.1 L442.8,1173.0 L442.9,1171.5 L445.8,1172.7 L448.8,1176.5 L451.8,1178.1 L452.4,1178.1 L454.8,1179.0 L457.8,1178.5 L460.8,1176.3 L463.8,1174.6 L466.7,1175.1 L466.8,1174.9 L469.8,1175.4 L472.8,1175.9 L475.8,1178.9 L478.8,1178.7 L481.8,1179.7 L484.8,1182.8 L485.7,1183.1 L487.8,1182.1 L490.8,1182.5 L493.8,1184.3 L496.8,1185.8 L499.8,1184.3 L502.8,1185.6 L505.8,1185.2 L508.8,1187.0 L511.8,1186.6 L514.8,1186.7 L517.8,1187.9 L520.8,1187.8 L523.8,1187.5 L526.8,1188.4 L529.8,1190.0 L532.8,1190.1 L533.3,1189.5 L535.8,1190.2 L538.8,1189.6 L541.8,1190.7 L544.8,1192.2 L547.8,1191.1 L550.8,1193.4 L553.8,1193.6 L556.8,1193.8 L559.8,1193.6 L561.9,1193.4 L562.8,1194.0 L565.8,1195.7 L568.8,1195.9 L571.8,1197.6 L574.8,1197.2 L577.8,1199.4 L580.8,1200.2 L583.8,1200.4 L586.8,1199.5 L588.1,1199.6 L589.8,1199.2 L592.8,1199.2 L595.8,1200.7 L598.8,1200.2 L601.8,1200.8 L604.8,1199.7 L607.8,1199.9 L610.8,1201.1 L613.8,1201.3 L616.8,1199.3 L619.8,1200.8 L622.8,1200.3 L625.8,1199.1 L628.6,1200.5 L628.8,1199.7 L631.8,1199.8 L634.8,1201.1 L637.8,1200.5 L640.8,1198.8 L643.8,1200.0 L646.8,1198.3 L649.8,1200.0 L652.8,1199.2 L655.8,1199.1 L658.8,1197.6 L661.8,1197.7 L664.3,1198.7 L664.8,1198.3 L667.8,1199.3 L670.8,1198.2 L673.8,1198.6 L676.8,1198.1 L679.8,1199.1 L682.8,1200.3 L685.8,1199.0 L688.8,1200.3 L691.8,1199.0 L694.8,1200.7 L697.8,1200.0 L700.0,1199.2 L700.8,1200.6 L703.8,1200.9 L706.8,1199.3 L709.8,1199.2 L712.8,1199.5 L715.8,1200.1 L718.8,1201.1 L721.8,1200.9 L724.8,1199.7 L727.8,1199.1 L730.8,1200.3 L733.8,1200.3 L736.8,1199.5 L739.8,1200.3 L742.8,1201.2 L745.8,1199.3 L748.8,1199.7 L751.8,1200.9 L754.8,1199.4 L757.8,1199.4 L759.5,1199.5 L760.8,1200.8 L763.8,1199.7 L766.8,1200.1 L769.8,1202.0 L772.8,1203.1 L775.8,1203.9 L778.8,1204.1 L781.8,1206.1 L784.8,1205.2 L787.8,1206.5 L790.8,1206.8 L793.8,1207.5 L795.2,1206.7 L796.8,1206.6 L799.8,1208.1 L802.8,1206.1 L805.8,1205.9 L808.8,1206.1 L811.8,1204.0 L814.8,1203.4 L817.8,1203.3 L820.8,1201.8 L823.8,1201.6 L826.8,1202.9 L829.8,1202.4 L832.8,1201.9 L835.8,1202.6 L838.8,1203.7 L841.8,1204.1 L844.8,1203.8 L847.8,1203.4 L850.8,1205.0 L853.8,1203.8 L856.8,1205.2 L859.8,1204.1 L862.8,1205.9 L865.8,1205.6 L866.7,1205.0 L868.8,1204.8 L871.8,1205.1 L874.8,1205.2 L877.8,1204.9 L880.8,1205.1 L883.8,1203.6 L886.8,1204.2 L889.8,1204.8 L892.8,1203.9 L895.8,1204.9 L898.8,1203.7 L901.8,1203.2 L904.8,1203.8 L907.8,1202.9 L910.8,1202.9 L913.8,1202.8 L914.3,1203.1 L916.8,1202.0 L919.8,1202.8 L922.8,1202.1 L925.8,1201.6 L928.8,1201.4 L931.8,1202.1 L934.8,1201.8 L937.8,1201.0 L940.8,1200.5 L943.8,1201.1 L946.8,1199.5 L949.8,1199.3 L952.8,1199.7 L955.8,1199.6 L958.8,1198.6 L961.8,1198.6 L961.9,1198.4 L964.8,1198.4 L967.8,1198.1 L970.8,1197.8 L973.8,1197.6 L976.8,1197.8 L979.8,1197.2 L982.8,1198.0 L985.8,1197.2 L988.8,1196.6 L991.8,1197.2 L994.8,1197.2 L997.8,1196.4 L1000.8,1195.6 L1003.8,1196.3 L1006.8,1196.2 L1009.8,1196.1 L1012.8,1195.6 L1015.8,1195.1 L1018.8,1194.4 L1021.4,1193.9 L1021.8,1193.6 L1024.8,1194.2 L1027.8,1193.3 L1030.8,1192.3 L1033.8,1191.3 L1036.8,1190.8 L1039.8,1190.6 L1042.8,1189.1 L1045.8,1188.0 L1048.8,1187.7 L1051.8,1186.9 L1054.8,1186.7 L1057.1,1186.1 L1057.8,1185.8 L1060.8,1186.0 L1063.8,1185.3 L1066.8,1183.7 L1069.8,1183.4 L1072.8,1183.1 L1075.8,1182.1 L1078.8,1182.6 L1081.8,1182.1 L1084.8,1181.0 L1087.8,1181.4 L1090.8,1180.5 L1093.8,1179.7 L1096.8,1179.9 L1099.8,1179.6 L1102.8,1179.3 L1104.8,1179.5 L1105.8,1179.3 L1108.8,1178.3 L1111.8,1178.1 L1114.8,1177.2 L1117.8,1177.6 L1120.8,1177.0 L1123.8,1176.7 L1126.8,1177.5 L1129.8,1176.2 L1132.8,1176.1 L1135.8,1176.7 L1138.8,1176.3 L1141.8,1175.9 L1144.8,1176.3 L1147.8,1175.2 L1150.8,1174.9 L1152.4,1175.2 L1153.8,1174.5 L1156.8,1175.0 L1159.8,1175.0 L1162.8,1174.4 L1165.8,1174.1 L1168.8,1172.5 L1171.8,1172.6 L1174.8,1172.8 L1177.8,1172.3 L1180.8,1171.6 L1183.8,1171.3 L1186.8,1170.4 L1189.8,1170.1 L1192.8,1169.6 L1195.8,1170.6 L1198.8,1169.7 L1200.0,1170.7 L1201.8,1169.4 L1204.8,1170.8 L1207.8,1170.8 L1210.8,1170.6 L1213.8,1171.9 L1216.8,1172.2 L1217.9,1172.2 L1219.8,1172.1 L1222.8,1171.6 L1225.8,1170.8 L1228.8,1169.2 L1231.8,1168.6 L1234.8,1166.5 L1237.8,1164.7 L1240.8,1164.1 L1242.9,1162.1 L1243.8,1161.9 L1246.8,1160.5 L1249.8,1158.7 L1252.8,1156.0 L1255.8,1153.5 L1258.8,1151.9 L1261.8,1149.8 L1264.8,1148.1 L1266.7,1146.7 L1267.8,1146.7 L1270.8,1145.5 L1273.8,1144.7 L1276.8,1143.5 L1279.8,1141.9 L1281.0,1141.1 L1282.8,1139.3 L1285.8,1132.8 L1288.8,1127.0 L1291.7,1123.4 L1291.8,1123.3 L1294.8,1121.4 L1297.8,1120.9 L1300.8,1120.9 L1303.8,1120.0 L1306.8,1118.1 L1307.1,1118.3 L1309.8,1115.5 L1312.8,1109.3 L1314.3,1105.2 L1315.8,1098.4 L1318.8,1086.0 L1319.0,1085.7 L1321.8,1097.7 L1323.8,1107.2 L1324.8,1109.9 L1327.8,1114.2 L1330.8,1117.5 L1332.1,1119.9 L1333.8,1122.6 L1336.8,1129.2 L1338.1,1131.5 L1339.8,1133.1 L1342.8,1135.2 L1345.8,1137.5 L1347.6,1137.5 L1348.8,1137.5 L1351.8,1136.7 L1354.8,1136.0 L1357.8,1134.2 L1360.8,1133.0 L1363.8,1131.8 L1366.7,1130.3 L1366.8,1130.2 L1369.8,1128.2 L1372.8,1126.9 L1375.8,1125.7 L1378.8,1123.3 L1381.0,1121.0 L1381.8,1119.2 L1384.8,1112.3 L1387.8,1105.0 L1389.3,1103.2 L1390.8,1101.1 L1393.8,1098.6 L1396.8,1097.0 L1397.6,1097.1 L1399.8,1096.2 L1402.8,1095.7 L1405.8,1094.4 L1408.8,1094.1 L1409.5,1094.8 L1411.8,1095.7 L1414.8,1101.0 L1417.8,1104.8 L1419.0,1104.9 L1420.8,1103.9 L1423.8,1099.5 L1426.8,1093.2 L1429.8,1091.5 L1432.8,1093.2 L1435.8,1098.8 L1438.1,1103.0 L1438.8,1103.4 L1441.8,1108.2 L1444.8,1111.4 L1447.8,1114.1 L1450.0,1115.7 L1450.8,1116.4 L1453.8,1118.2 L1456.8,1118.9 L1459.8,1120.2 L1462.8,1121.2 L1465.8,1121.8 L1468.8,1122.1 L1469.0,1121.7 L1471.8,1121.7 L1474.8,1122.1 L1477.8,1121.9 L1480.8,1121.1 L1483.8,1121.4 L1485.7,1120.4 L1486.8,1120.9 L1489.8,1120.5 L1492.8,1119.6 L1495.8,1119.0 L1498.8,1117.7 L1501.8,1117.7 L1504.8,1116.9 L1507.8,1116.3 L1509.5,1116.1 L1510.8,1115.5 L1513.8,1115.8 L1516.8,1115.2 L1519.8,1114.9 L1522.8,1114.1 L1525.8,1114.3 L1528.8,1113.7 L1531.8,1114.0 L1534.8,1113.2 L1537.8,1113.2 L1538.1,1113.3 L1540.8,1113.6 L1543.8,1114.4 L1546.8,1114.0 L1549.8,1115.2 L1552.8,1115.4 L1555.8,1116.6 L1557.1,1116.9 L1558.8,1117.4 L1561.8,1119.4 L1564.8,1121.4 L1567.8,1123.7 L1570.8,1126.4 L1571.4,1126.4 L1573.8,1129.0 L1576.8,1130.9 L1579.8,1134.4 L1582.8,1136.1 L1585.8,1139.1 L1588.8,1139.7 L1590.0,1140.0 L1591.8,1140.5 L1594.8,1141.6 L1597.8,1141.4 L1600.8,1141.7 L1603.8,1142.4 L1606.8,1142.2 L1609.5,1143.3 L1609.8,1143.3 L1612.8,1144.4 L1615.8,1147.3 L1618.8,1149.6 L1621.2,1152.2 L1621.8,1153.3 L1624.8,1158.5 L1627.8,1164.9 L1628.7,1167.1 L1630.8,1173.9 L1633.8,1184.8 L1636.1,1193.4 L1636.8,1195.8 L1639.8,1206.7 L1642.8,1216.9 L1643.6,1219.8 L1645.8,1227.5 L1648.8,1236.5 L1649.6,1238.2 L1651.8,1241.2 L1654.8,1243.3 L1655.5,1243.3 L1657.8,1242.0 L1660.8,1238.8 L1663.7,1234.4 L1663.8,1234.3 L1666.8,1229.0 L1669.8,1222.7 L1672.8,1216.7 L1673.4,1215.7 L1675.8,1212.1 L1678.8,1207.7 L1681.8,1203.9 L1684.6,1200.9 L1684.8,1200.9 L1687.8,1197.0 L1690.8,1193.7 L1693.8,1192.2 L1694.3,1192.1 L1696.8,1194.8 L1699.8,1202.0 L1701.0,1204.7 L1702.8,1209.1 L1705.5,1214.1 L1705.8,1214.0 L1708.8,1211.8 L1711.8,1208.4 L1714.5,1206.2 L1714.8,1205.7 L1717.8,1205.3 L1720.8,1204.6 L1721.9,1204.6 L1723.8,1204.6 L1726.8,1206.4 L1729.8,1207.6 L1730.0,1207.8 L1732.8,1210.4 L1735.8,1213.8 L1738.8,1216.6 L1739.6,1217.3 L1741.8,1217.6 L1744.8,1219.1 L1747.8,1219.9 L1750.8,1220.9 L1753.8,1221.2 L1756.8,1221.5 L1759.8,1221.0 L1762.8,1219.6 L1765.8,1217.5 L1768.8,1216.0 L1771.8,1214.6 L1774.8,1213.8 L1775.8,1213.9 L1777.8,1213.6 L1780.8,1213.9 L1783.8,1215.1 L1786.8,1216.0 L1789.8,1217.5 L1792.8,1218.6 L1795.8,1220.2 L1798.8,1221.9 L1801.8,1223.0 L1803.3,1223.8 L1804.8,1224.3 L1807.8,1226.0 L1810.8,1227.2 L1813.8,1228.5 L1816.8,1229.7 L1819.8,1231.4 L1822.8,1232.5 L1825.8,1234.3 L1828.8,1235.6 L1831.8,1237.8 L1834.3,1239.2 L1834.8,1239.5 L1837.8,1242.7 L1840.8,1245.6 L1843.8,1249.5 L1846.8,1252.7 L1849.8,1255.4 L1851.6,1256.7 L1852.8,1257.6 L1855.8,1258.9 L1858.8,1260.9 L1861.8,1261.5 L1863.6,1261.6 L1864.8,1262.0 L1867.8,1261.5 L1870.8,1261.6 L1873.8,1261.7 L1876.8,1261.2 L1879.8,1261.3 L1882.8,1261.1 L1885.8,1261.1 L1888.8,1260.7 L1889.5,1261.0 L1891.8,1261.4 L1894.8,1261.8 L1897.8,1263.6 L1900.8,1264.7 L1903.8,1265.0 L1905.0,1265.5 L1906.8,1264.5 L1909.8,1259.7 L1912.8,1254.6 L1913.6,1253.5 L1915.8,1249.8 L1918.8,1243.8 L1921.8,1238.7 L1924.8,1234.9 L1925.6,1234.1 L1927.8,1232.7 L1930.8,1231.0 L1933.8,1229.9 L1936.8,1229.0 L1939.8,1228.0 L1942.8,1226.7 L1944.6,1225.9 L1945.8,1224.5 L1948.8,1221.6 L1951.8,1218.2 L1954.8,1214.3 L1957.8,1210.5 L1958.4,1210.2 L1960.8,1207.6 L1963.8,1205.3 L1966.8,1202.2 L1969.8,1199.9 L1972.8,1197.8 L1975.6,1196.4 L1975.8,1196.1 L1978.8,1195.2 L1981.8,1194.3 L1984.8,1193.9 L1987.8,1193.2 L1990.8,1192.8 L1993.8,1192.1 L1996.8,1191.4 L1999.8,1190.5 L2001.4,1189.5 L2002.8,1188.6 L2005.8,1185.0 L2008.8,1180.2 L2011.8,1175.5 L2014.8,1172.3 L2015.2,1172.2 L2017.8,1170.8 L2020.8,1169.9 L2023.8,1169.1 L2026.8,1168.3 L2029.8,1167.5 L2032.8,1166.2 L2034.9,1165.3 L2035.8,1165.0 L2038.8,1163.5 L2041.8,1161.2 L2044.8,1159.5 L2047.8,1159.1 L2048.5,1158.7 L2050.8,1158.7 L2053.8,1159.6 L2056.8,1160.7 L2059.8,1161.9 L2062.1,1162.9 L2062.8,1163.5 L2065.8,1166.4 L2068.8,1171.2 L2070.8,1174.6 L2071.8,1176.0 L2074.8,1184.7 L2077.8,1190.5 L2078.2,1190.5 L2080.8,1190.0 L2083.8,1189.4 L2085.6,1189.1 L2086.8,1187.9 L2089.8,1183.6 L2091.8,1181.7 L2092.8,1181.9 L2095.8,1185.6 L2098.0,1188.9 L2098.8,1190.7 L2101.8,1199.4 L2104.8,1209.3 L2105.4,1211.6 L2107.8,1219.3 L2110.8,1228.5 L2112.9,1233.7 L2113.8,1235.3 L2116.8,1240.9 L2119.8,1243.6 L2120.3,1243.9 L2122.8,1243.5 L2125.8,1242.4 L2128.8,1240.4 L2131.4,1238.9 L2131.8,1238.2 L2134.8,1232.0 L2137.6,1227.6 L2137.8,1227.5 L2140.8,1227.3 L2143.8,1227.6 L2145.0,1227.6 L2146.8,1229.8 L2149.8,1238.3 L2151.2,1242.2 L2152.8,1246.6 L2155.8,1254.9 L2158.7,1258.3 L2158.8,1258.7 L2161.8,1254.3 L2164.8,1245.4 L2166.1,1242.5 L2167.8,1238.3 L2170.8,1231.0 L2172.3,1228.6 L2173.8,1226.9 L2176.8,1223.6 L2179.7,1222.7 L2179.8,1222.6 L2182.8,1222.6 L2185.8,1223.2 L2188.8,1223.4 L2190.9,1223.2 L2191.8,1222.8 L2194.8,1218.9 L2197.0,1215.0 L2197.8,1214.1 L2200.8,1208.1 L2203.2,1205.0 L2203.8,1204.6 L2206.8,1203.6 L2209.8,1203.0 L2212.8,1202.6 L2214.4,1201.6 L2215.8,1199.6 L2218.8,1191.7 L2220.6,1186.8 L2221.8,1184.5 L2224.8,1179.2 L2227.8,1172.3 L2228.0,1171.9 L2230.8,1151.0 L2231.7,1146.9 L2233.8,1144.9 L2236.8,1143.3 L2237.9,1143.2 L2239.8,1144.5 L2242.8,1149.8 L2243.0,1150.3 L2245.8,1164.7 L2246.0,1165.7" stroke="#5a5044" stroke-width="10.8"/><path d="M221.4,368.5 L224.4,371.1 L227.4,369.5 L230.4,370.5 L233.4,371.3 L236.4,369.3 L239.4,369.0 L242.4,367.1 L245.4,367.7 L248.4,368.5 L251.4,369.1 L254.4,369.5 L257.4,367.7 L260.4,366.3 L263.4,367.1 L266.4,369.6 L269.4,366.8 L271.4,367.7 L272.4,369.6 L275.4,366.0 L278.4,368.3 L281.4,369.7 L284.4,366.8 L287.4,368.1 L290.4,369.5 L293.4,366.4 L296.4,368.0 L299.4,368.9 L302.4,368.6 L305.4,367.8 L308.4,366.7 L311.4,367.9 L314.4,367.4 L317.4,367.8 L319.0,367.4 L320.4,369.2 L323.4,368.6 L326.4,366.1 L329.4,366.3 L332.4,364.2 L335.4,363.9 L338.4,362.5 L341.4,362.9 L342.9,361.4 L344.4,361.4 L347.4,361.8 L350.4,360.1 L353.4,361.5 L356.4,358.0 L359.4,359.7 L362.4,357.8 L365.4,357.1 L366.7,357.5 L368.4,356.6 L371.4,355.0 L374.4,352.0 L377.4,350.9 L380.4,352.0 L383.3,350.1 L383.4,350.7 L386.4,350.6 L389.4,348.3 L392.4,344.5 L395.4,344.5 L398.4,344.8 L401.4,343.0 L402.4,345.9 L404.4,346.2 L407.4,347.8 L410.4,348.8 L413.4,352.6 L416.4,350.9 L416.7,351.6 L419.4,352.2 L422.4,353.2 L425.4,351.9 L428.4,350.3 L431.4,350.8 L434.4,350.4 L437.4,350.0 L440.4,349.1 L443.4,349.9 L446.4,349.9 L449.4,351.1 L450.0,351.2 L452.4,350.2 L455.4,350.3 L458.4,352.1 L461.4,353.2 L464.4,353.2 L467.4,354.6 L470.4,356.0 L473.4,353.3 L476.4,357.5 L479.4,355.8 L481.0,356.9 L482.4,358.5 L485.4,358.7 L488.4,357.1 L491.4,359.7 L494.4,357.9 L497.4,359.6 L500.4,361.7 L503.4,360.4 L504.8,361.1 L506.4,361.5 L509.4,361.2 L512.4,360.0 L515.4,355.9 L518.4,356.7 L521.4,356.6 L524.4,355.4 L527.4,357.1 L530.4,357.6 L533.4,358.6 L536.4,359.4 L539.4,357.4 L542.4,358.2 L545.2,360.0 L545.4,358.4 L548.4,359.3 L551.4,361.1 L554.4,360.7 L557.4,363.4 L560.4,364.6 L563.4,363.2 L566.4,365.8 L569.0,367.6 L569.4,368.3 L572.4,367.7 L575.4,369.2 L578.4,373.3 L581.4,375.3 L584.4,374.9 L587.4,376.8 L590.4,378.1 L590.5,378.4 L593.4,376.3 L596.4,377.3 L599.4,377.1 L602.4,375.6 L605.4,373.6 L608.4,372.5 L611.4,372.6 L614.4,373.7 L616.7,371.2 L617.4,371.1 L620.4,372.1 L623.4,371.1 L626.4,371.3 L629.4,370.8 L632.4,372.3 L635.4,372.8 L638.4,371.9 L641.4,371.0 L644.4,371.6 L647.4,372.3 L650.4,373.3 L652.4,373.4 L653.4,371.1 L656.4,370.3 L659.4,372.7 L662.4,372.8 L665.4,371.3 L668.4,372.1 L671.4,372.2 L674.4,371.3 L677.4,372.0 L680.4,369.3 L683.4,369.9 L686.4,369.8 L689.4,369.2 L692.4,371.5 L695.4,368.8 L698.4,370.7 L700.0,368.9 L701.4,369.8 L704.4,370.0 L707.4,369.3 L710.4,370.3 L713.4,370.4 L716.4,369.7 L719.4,371.0 L722.4,369.3 L725.4,369.5 L728.4,370.0 L731.4,370.1 L734.4,369.7 L737.4,371.9 L740.4,371.7 L743.4,369.6 L746.4,370.5 L749.4,370.2 L752.4,371.0 L755.4,370.6 L758.4,371.4 L759.5,372.7 L761.4,371.3 L764.4,372.8 L767.4,373.8 L770.4,375.6 L773.4,375.0 L776.4,378.5 L778.6,379.9 L779.4,379.2 L782.4,379.5 L785.4,382.1 L788.4,383.5 L791.4,384.5 L794.4,383.8 L797.4,386.6 L797.6,386.6 L800.4,384.9 L803.4,385.1 L806.4,383.0 L809.4,385.3 L809.5,384.8 L812.4,382.5 L815.4,380.1 L818.4,376.5 L819.0,376.8 L821.4,376.8 L824.4,378.7 L827.4,378.6 L828.6,381.7 L830.4,383.7 L833.4,394.6 L835.7,401.2 L836.4,404.7 L839.4,412.7 L841.7,414.7 L842.4,413.3 L845.4,410.1 L848.4,403.8 L848.8,405.8 L851.4,405.0 L854.4,404.2 L857.4,404.8 L860.4,405.2 L861.9,404.1 L863.4,405.8 L866.4,404.1 L869.4,404.7 L872.4,403.5 L875.4,400.3 L876.2,401.6 L878.4,399.5 L881.4,398.9 L884.4,396.7 L885.7,396.3 L887.4,397.8 L890.4,396.3 L893.4,399.2 L896.4,399.9 L899.4,399.8 L900.0,401.7 L902.4,396.3 L905.4,387.2 L906.0,385.9 L908.4,384.0 L911.4,384.0 L914.4,381.4 L917.4,380.5 L920.4,381.2 L923.4,379.7 L923.8,379.5 L926.4,379.6 L929.4,377.4 L932.4,377.5 L935.4,376.0 L938.0,374.7 L938.4,374.0 L941.4,373.6 L944.4,374.3 L947.4,372.4 L950.4,371.4 L953.4,371.2 L956.4,372.2 L957.0,370.7 L959.4,372.0 L962.4,370.7 L965.4,372.3 L968.4,371.5 L971.4,370.5 L974.4,372.3 L977.4,371.1 L980.4,371.9 L983.4,371.4 L986.4,370.6 L989.4,370.6 L992.4,370.7 L995.4,370.7 L998.4,370.5 L1001.4,370.5 L1004.4,372.3 L1007.4,370.6 L1009.5,371.4 L1010.4,370.6 L1013.4,370.8 L1016.4,371.8 L1019.4,372.0 L1022.4,370.9 L1025.4,369.8 L1028.4,371.6 L1031.4,369.4 L1034.4,369.8 L1037.4,369.9 L1040.4,370.3 L1043.4,369.8 L1046.4,369.1 L1049.4,368.4 L1052.4,369.0 L1055.4,368.8 L1057.0,368.6 L1058.4,368.2 L1061.4,366.7 L1064.4,366.8 L1067.4,366.9 L1070.4,366.7 L1073.4,367.0 L1076.4,365.5 L1079.4,366.0 L1081.0,365.2 L1082.4,365.9 L1085.4,364.1 L1088.4,364.1 L1091.4,362.7 L1094.4,362.3 L1097.4,363.4 L1100.0,362.0 L1100.4,363.2 L1103.4,362.5 L1106.4,361.7 L1109.4,363.4 L1112.4,362.2 L1115.4,364.1 L1118.4,362.8 L1121.4,364.4 L1124.4,363.8 L1127.4,364.4 L1130.4,365.9 L1133.4,365.2 L1136.4,365.7 L1139.4,366.0 L1140.5,364.7 L1142.4,366.1 L1145.4,366.1 L1148.4,364.2 L1151.4,364.5 L1154.4,363.6 L1157.4,364.1 L1160.4,362.3 L1163.4,363.1 L1164.3,363.7 L1166.4,363.7 L1169.4,362.8 L1172.4,364.8 L1175.4,364.2 L1178.4,366.0 L1181.4,365.9 L1184.4,365.5 L1185.7,366.7 L1187.4,366.6 L1190.4,365.5 L1193.4,364.7 L1196.4,362.1 L1199.4,361.4 L1200.0,361.2 L1202.4,362.0 L1205.4,361.7 L1208.0,361.6 L1208.4,361.9 L1211.4,363.7 L1214.4,366.8 L1217.4,370.1 L1217.9,369.8 L1220.4,370.0 L1223.4,370.6 L1226.4,368.5 L1229.4,368.5 L1232.4,367.6 L1235.4,365.7 L1238.4,364.9 L1241.4,364.7 L1242.9,362.8 L1244.4,362.7 L1247.4,360.6 L1250.4,356.9 L1253.4,354.8 L1256.4,352.2 L1259.4,351.2 L1259.5,351.5 L1262.4,351.1 L1265.4,351.5 L1268.4,350.9 L1271.4,351.7 L1274.4,351.3 L1276.2,350.9 L1277.4,350.8 L1280.4,348.4 L1283.4,343.9 L1286.4,340.0 L1288.0,339.1 L1289.4,339.0 L1292.4,339.5 L1295.4,338.3 L1298.4,339.1 L1301.4,338.9 L1304.4,337.8 L1304.8,337.9 L1307.4,336.8 L1310.4,333.5 L1311.9,331.5 L1313.4,327.8 L1316.4,315.7 L1318.6,311.5 L1319.4,312.8 L1322.4,325.8 L1323.8,331.2 L1325.4,334.3 L1328.4,341.0 L1331.4,346.0 L1333.3,348.1 L1334.4,349.1 L1337.4,351.6 L1340.4,353.8 L1343.4,354.3 L1346.4,356.3 L1347.6,355.7 L1349.4,356.0 L1352.4,356.4 L1355.4,357.2 L1358.4,356.9 L1361.4,356.8 L1364.4,356.9 L1367.4,357.6 L1369.0,357.5 L1370.4,356.5 L1373.4,355.2 L1376.4,352.8 L1379.4,349.6 L1382.4,347.0 L1385.4,343.9 L1385.7,344.1 L1388.4,342.3 L1391.4,339.5 L1394.4,336.0 L1397.4,334.0 L1400.4,333.2 L1401.2,333.5 L1403.4,333.8 L1406.4,335.9 L1409.4,339.0 L1409.5,338.9 L1412.4,344.4 L1415.4,347.8 L1415.5,347.5 L1418.4,346.5 L1421.4,343.0 L1424.4,339.2 L1427.4,336.0 L1429.8,335.2 L1430.4,336.0 L1433.4,340.6 L1436.4,347.7 L1438.0,349.5 L1439.4,351.6 L1442.4,354.4 L1445.4,356.7 L1448.4,359.4 L1451.4,361.2 L1454.4,363.3 L1457.4,365.8 L1459.5,366.9 L1460.4,367.5 L1463.4,368.5 L1466.4,370.4 L1469.4,371.9 L1472.4,373.5 L1475.4,374.9 L1478.4,377.1 L1481.0,377.9 L1481.4,377.2 L1484.4,378.1 L1487.4,379.7 L1490.4,379.7 L1492.9,379.6 L1493.4,379.7 L1496.4,377.7 L1499.4,375.3 L1502.4,374.1 L1505.4,373.9 L1508.4,374.5 L1511.4,374.0 L1514.4,375.0 L1517.4,376.0 L1520.4,375.6 L1521.4,376.2 L1523.4,377.1 L1526.4,378.6 L1529.4,381.4 L1532.4,382.0 L1533.3,382.1 L1535.4,382.6 L1538.4,381.4 L1541.4,382.2 L1544.4,381.1 L1547.4,381.2 L1550.4,381.1 L1553.4,381.0 L1554.8,380.4 L1556.4,381.4 L1559.4,384.8 L1562.4,389.0 L1564.3,389.8 L1565.4,389.4 L1568.4,389.5 L1571.4,389.0 L1574.4,388.0 L1576.2,387.6 L1577.4,388.7 L1580.4,392.4 L1583.4,398.0 L1585.7,403.0 L1586.4,403.9 L1589.4,407.8 L1592.4,412.4 L1595.4,416.6 L1598.4,420.1 L1601.4,421.2 L1602.4,421.5 L1604.4,420.5 L1607.4,418.4 L1610.3,417.3 L1610.4,417.0 L1613.4,416.4 L1616.4,416.5 L1619.4,416.8 L1620.7,416.2 L1622.4,418.0 L1625.4,424.3 L1627.6,430.3 L1628.4,432.8 L1631.4,443.5 L1634.4,457.6 L1637.4,474.9 L1640.4,494.8 L1641.3,500.5 L1643.4,519.6 L1645.6,535.0 L1646.4,538.0 L1649.0,543.6 L1649.4,543.7 L1652.4,539.6 L1655.0,533.9 L1655.4,532.6 L1658.4,522.3 L1661.4,509.9 L1663.7,500.5 L1664.4,497.8 L1667.4,485.9 L1670.4,474.8 L1672.3,469.6 L1673.4,467.6 L1676.4,462.8 L1679.4,459.6 L1681.0,457.7 L1682.4,456.1 L1685.4,453.2 L1688.4,450.9 L1689.6,450.8 L1691.4,452.8 L1694.4,465.0 L1694.7,466.2 L1697.3,509.8 L1697.4,511.4 L1699.5,559.8 L1700.4,588.5 L1702.3,646.2 L1703.4,662.8 L1704.6,674.7 L1706.4,686.5 L1708.2,675.3 L1709.4,660.7 L1710.5,646.0 L1712.4,623.3 L1713.6,611.5 L1715.4,600.0 L1716.6,594.5 L1718.4,588.8 L1720.6,585.0 L1721.4,585.1 L1724.4,586.1 L1727.4,588.6 L1730.4,592.3 L1730.9,593.0 L1733.4,599.4 L1736.4,609.6 L1737.8,611.4 L1739.4,610.8 L1742.4,606.6 L1745.4,600.8 L1746.4,599.6 L1748.4,597.6 L1751.4,595.4 L1754.4,591.6 L1755.0,590.7 L1757.4,584.9 L1760.4,573.7 L1761.9,568.5 L1763.4,563.5 L1766.4,553.0 L1767.9,550.5 L1769.4,550.5 L1772.4,550.3 L1775.4,550.2 L1775.7,549.6 L1778.4,557.7 L1780.9,566.0 L1781.4,567.2 L1784.4,570.1 L1787.4,573.1 L1787.7,573.3 L1790.4,578.4 L1792.9,582.1 L1793.4,581.6 L1796.4,575.3 L1799.4,565.8 L1801.0,563.9 L1802.4,563.7 L1805.4,562.8 L1806.7,563.1 L1808.4,563.8 L1811.4,567.4 L1814.4,571.8 L1817.0,573.9 L1817.4,573.9 L1820.4,575.1 L1823.4,576.0 L1826.4,576.4 L1829.4,577.9 L1830.0,577.7 L1832.4,578.9 L1835.4,581.7 L1838.0,584.2 L1838.4,584.3 L1841.4,590.5 L1842.9,595.2 L1844.4,601.6 L1846.3,611.5 L1847.4,617.1 L1850.4,632.4 L1853.2,645.8 L1853.4,647.4 L1856.4,662.1 L1859.4,676.8 L1860.1,680.8 L1862.4,694.0 L1865.4,709.9 L1866.1,711.7 L1868.4,714.7 L1871.3,717.0 L1871.4,716.8 L1874.4,713.4 L1877.3,707.9 L1877.4,707.6 L1880.4,699.0 L1883.4,687.5 L1885.9,680.6 L1886.4,679.8 L1889.4,673.8 L1892.4,670.0 L1892.8,670.1 L1895.4,677.4 L1898.0,690.8 L1898.4,693.0 L1901.4,714.4 L1903.1,720.4 L1904.4,717.9 L1907.4,703.0 L1908.3,697.7 L1910.4,680.6 L1913.4,655.3 L1913.5,654.6 L1916.4,641.2 L1919.4,631.1 L1920.4,628.7 L1922.4,625.6 L1925.4,622.3 L1928.4,620.4 L1929.0,620.0 L1931.4,623.2 L1934.4,630.6 L1937.4,635.9 L1937.6,636.0 L1940.4,636.7 L1943.4,636.9 L1946.4,637.3 L1948.6,636.9 L1949.4,636.5 L1952.4,628.0 L1955.4,616.7 L1957.2,611.1 L1958.4,608.9 L1961.4,602.8 L1964.4,598.1 L1967.4,595.7 L1967.6,595.5 L1970.4,598.3 L1973.4,604.1 L1976.2,609.5 L1976.4,610.0 L1979.4,614.2 L1982.4,618.9 L1984.8,619.9 L1985.4,619.7 L1988.4,619.4 L1991.4,617.3 L1994.4,615.1 L1997.4,612.8 L1998.6,611.1 L2000.4,609.0 L2003.4,602.1 L2006.4,594.8 L2008.9,589.0 L2009.4,587.6 L2012.4,580.5 L2015.4,575.4 L2015.8,575.2 L2018.4,573.4 L2021.4,572.6 L2022.7,572.8 L2024.4,572.6 L2027.4,574.3 L2030.4,575.9 L2031.3,576.8 L2033.4,579.2 L2036.4,584.5 L2039.4,590.5 L2042.4,595.2 L2043.3,595.9 L2045.4,597.5 L2048.4,599.2 L2051.4,600.2 L2054.4,601.8 L2057.1,602.7 L2057.4,602.7 L2060.4,603.7 L2063.4,605.0 L2066.4,606.1 L2069.2,607.5 L2069.4,608.0 L2072.4,615.5 L2075.4,625.4 L2076.1,626.8 L2078.4,630.1 L2081.2,631.8 L2081.4,631.7 L2084.4,627.7 L2087.4,621.0 L2089.8,618.4 L2090.4,618.1 L2093.4,619.7 L2096.4,623.0 L2096.7,623.6 L2099.4,637.5 L2101.0,651.2 L2102.4,665.4 L2104.5,692.0 L2105.4,703.2 L2107.9,735.5 L2108.4,742.4 L2110.5,769.7 L2111.4,778.7 L2113.1,788.4 L2114.4,788.3 L2117.4,784.7 L2119.1,781.8 L2120.4,778.1 L2123.4,764.9 L2126.0,752.6 L2126.4,751.0 L2129.4,738.7 L2132.4,728.0 L2132.9,726.9 L2135.4,720.5 L2138.4,714.3 L2141.4,711.1 L2141.5,711.3 L2144.4,714.2 L2147.4,722.7 L2148.4,727.0 L2150.4,743.9 L2152.7,769.4 L2153.4,776.1 L2156.4,800.0 L2157.0,800.9 L2159.4,797.8 L2162.2,789.0 L2162.4,787.9 L2165.4,767.1 L2167.4,752.2 L2168.4,746.4 L2171.4,729.4 L2174.2,718.4 L2174.4,717.2 L2177.4,710.5 L2180.4,706.4 L2181.1,706.1 L2183.4,706.2 L2186.4,707.5 L2189.4,709.3 L2191.5,709.6 L2192.4,708.8 L2195.4,701.1 L2198.4,693.7 L2201.4,691.6 L2204.4,690.0 L2205.2,690.0 L2207.4,690.3 L2210.4,691.7 L2213.4,694.3 L2216.4,696.2 L2219.4,698.4 L2222.4,698.9 L2222.5,699.0 L2225.4,695.1 L2228.4,686.1 L2231.1,680.5 L2231.4,679.9 L2234.4,676.3 L2237.4,673.8 L2239.7,673.0 L2240.4,673.8 L2243.4,683.8 L2244.9,692.0 L2246.4,711.4 L2246.6,714.9" stroke="#e6583c" stroke-width="11.4"/></g>
</g>
<path d="M1738.6,460.4 L1738.6,500.8 M1738.7,541.3 L1738.7,581.8 M1738.7,622.5 L1738.8,663.8 M1738.8,704.7 L1738.8,746.0 M1738.9,785.6 L1738.9,827.0 M1738.9,867.2 L1739.0,908.5 M1739.0,949.8 L1739.0,991.2 M1739.1,1030.1 L1739.1,1055.0" stroke="#fbcb66" stroke-width="9.6" fill="none"/><path d="M1738.6,460.4 L1738.6,500.8 M1738.7,541.3 L1738.7,581.8 M1738.7,622.5 L1738.8,663.8 M1738.8,704.7 L1738.8,746.0 M1738.9,785.6 L1738.9,827.0 M1738.9,867.2 L1739.0,908.5 M1739.0,949.8 L1739.0,991.2 M1739.1,1030.1 L1739.1,1055.0" stroke="#f5b127" stroke-width="4.6" fill="none"/>
<path d="M1790.8,349.3 L1790.8,389.8 M1790.8,430.2 L1790.8,471.6 M1790.8,512.0 L1790.8,552.5 M1790.8,593.9 L1790.8,634.5 M1790.8,674.5 L1790.8,715.9 M1790.8,756.3 L1790.8,798.5 M1790.8,838.0 L1790.8,880.0" stroke="#fbcb66" stroke-width="9.6" fill="none"/><path d="M1790.8,349.3 L1790.8,389.8 M1790.8,430.2 L1790.8,471.6 M1790.8,512.0 L1790.8,552.5 M1790.8,593.9 L1790.8,634.5 M1790.8,674.5 L1790.8,715.9 M1790.8,756.3 L1790.8,798.5 M1790.8,838.0 L1790.8,880.0" stroke="#f5b127" stroke-width="4.6" fill="none"/>
<path d="M1867.5,464.7 L1868.0,506.9 M1868.4,546.5 L1868.9,587.0 M1869.3,628.9 L1869.8,669.4 M1870.3,709.8 L1870.7,750.3 M1871.2,790.8 L1871.6,832.0 M1872.1,873.2 L1872.6,914.5 M1873.0,953.3 L1873.4,988.6" stroke="#fbcb66" stroke-width="9.6" fill="none"/><path d="M1867.5,464.7 L1868.0,506.9 M1868.4,546.5 L1868.9,587.0 M1869.3,628.9 L1869.8,669.4 M1870.3,709.8 L1870.7,750.3 M1871.2,790.8 L1871.6,832.0 M1872.1,873.2 L1872.6,914.5 M1873.0,953.3 L1873.4,988.6" stroke="#f5b127" stroke-width="4.6" fill="none"/>
<path d="M1904.2,560.3 L1904.2,601.2 M1904.2,641.8 L1904.2,680.6 M1904.2,722.8 L1904.2,764.1 M1904.2,803.8 L1904.2,844.0" stroke="#fbcb66" stroke-width="9.6" fill="none"/><path d="M1904.2,560.3 L1904.2,601.2 M1904.2,641.8 L1904.2,680.6 M1904.2,722.8 L1904.2,764.1 M1904.2,803.8 L1904.2,844.0" stroke="#f5b127" stroke-width="4.6" fill="none"/>
<path d="M1532,147.8 H1743.5" stroke="#000" stroke-width="10.5" stroke-linecap="round"/>
<path d="M1532,262.9 H1743.5" stroke="#e34242" stroke-width="10.5" stroke-linecap="round"/>
<circle cx="1706.4" cy="683" r="24" fill="none" stroke="#4a3c32" stroke-width="2.6" stroke-dasharray="4.4 4"/>
<path d="M1683,691.4 L1606,735.3" stroke="#000" stroke-width="3" fill="none"/>
<path d="M1583.6,747.1 L1604.3,720.7 L1608.6,734.3 L1617.9,742.9 Z" fill="#000"/>
<path d="M1945.4,653.7 L1949.7,703.3" stroke="#f59a0a" stroke-width="8.2" fill="none"/><path d="M1952.6,734.1 L1931,696.1 L1949.7,703.3 L1966.9,692.5 Z" fill="#f59a0a"/>
<path d="M2005,627.9 L2045.2,782.2" stroke="#f59a0a" stroke-width="7.3" fill="none"/><path d="M2053.8,814.5 L2025.1,781.5 L2045.2,782.2 L2061.7,772.9 Z" fill="#f59a0a"/>
<path d="M1718.3,1355.3 L1780,1412" stroke="#f59a0a" stroke-width="7.8" fill="none"/><path d="M1804.4,1433.7 L1762,1418.3 L1780,1412 L1786.4,1393.9 Z" fill="#f59a0a"/>
<path d="M2087.3,1355.3 L2030,1414.5" stroke="#f59a0a" stroke-width="7.8" fill="none"/><path d="M2006.3,1437.6 L2023,1396.4 L2030,1414.5 L2047.4,1420.9 Z" fill="#f59a0a"/>
<text transform="matrix(0.8265 0 0 0.8680 138.35 1792.94)" font-size="100">4000</text>
<text transform="matrix(0.8265 0 0 0.8680 435.85 1792.94)" font-size="100">3500</text>
<text transform="matrix(0.8265 0 0 0.8680 733.35 1792.94)" font-size="100">3000</text>
<text transform="matrix(0.8265 0 0 0.8680 1030.85 1792.94)" font-size="100">2500</text>
<text transform="matrix(0.8265 0 0 0.8680 1328.35 1792.94)" font-size="100">2000</text>
<text transform="matrix(0.8265 0 0 0.8680 1628.35 1792.94)" font-size="100">1500</text>
<text transform="matrix(0.8265 0 0 0.8680 1925.85 1792.94)" font-size="100">1000</text>
<text transform="matrix(0.8985 0 0 0.8680 2179.11 1792.94)" font-size="100">600</text>
<text transform="matrix(0.9921 0 0 1.0408 806.00 1904.30)" font-size="100" font-weight="bold">Wavenumber</text>
<text transform="matrix(0.9735 0 0 1.0408 1413.06 1904.30)" font-size="100" font-weight="bold">(cm</text>
<text transform="matrix(0.6400 0 0 0.5120 1557.70 1864.80)" font-size="100">−</text>
<text transform="matrix(0.4933 0 0 0.5745 1588.65 1868.20)" font-size="100" font-weight="bold">1</text>
<text transform="matrix(1.0466 0 0 0.9991 1614.23 1904.15)" font-size="100" font-weight="bold">)</text>
<text transform="matrix(0 -1.1501 1.2076 0 153.20 1242.39)" font-size="100" font-weight="bold">Intensity (a.u.)</text>
<text transform="matrix(0.9161 0 0 0.9539 1764.57 178.90)" font-size="100">EP</text>
<text transform="matrix(0.9147 0 0 0.9493 1764.57 294.40)" font-size="100">EP/DPBSi-6</text>
<text transform="matrix(0.5780 0 0 0.6120 1472.99 795.70)" font-size="100" font-weight="bold">C=N</text>
<text transform="matrix(0.5780 0 0 0.6120 1714.49 1104.50)" font-size="100" font-weight="bold">C-N</text>
<text transform="matrix(0.5780 0 0 0.6120 1755.89 935.30)" font-size="100" font-weight="bold">Si-C</text>
<text transform="matrix(0.5780 0 0 0.6120 1819.70 1034.20)" font-size="100" font-weight="bold">P=O</text>
<text transform="matrix(0.5780 0 0 0.6120 1884.19 900.80)" font-size="100" font-weight="bold">Si-O</text>
<text transform="matrix(0.5780 0 0 0.6120 1912.59 780.70)" font-size="100" font-weight="bold">SiO<tspan font-size="52" dx="5">2</tspan></text>
<text transform="matrix(0.5780 0 0 0.6120 1929.40 856.80)" font-size="100" font-weight="bold">P-O-C</text>
<text transform="matrix(0.5715 0 0 0.6192 1771.00 1477.90)" font-size="100" font-weight="bold" letter-spacing="6">Atomatic</text>
<text transform="matrix(0.5761 0 0 0.6326 1736.20 1554.60)" font-size="100" font-weight="bold" letter-spacing="7">Compounds</text>
</g>
</svg>
</body></html>
